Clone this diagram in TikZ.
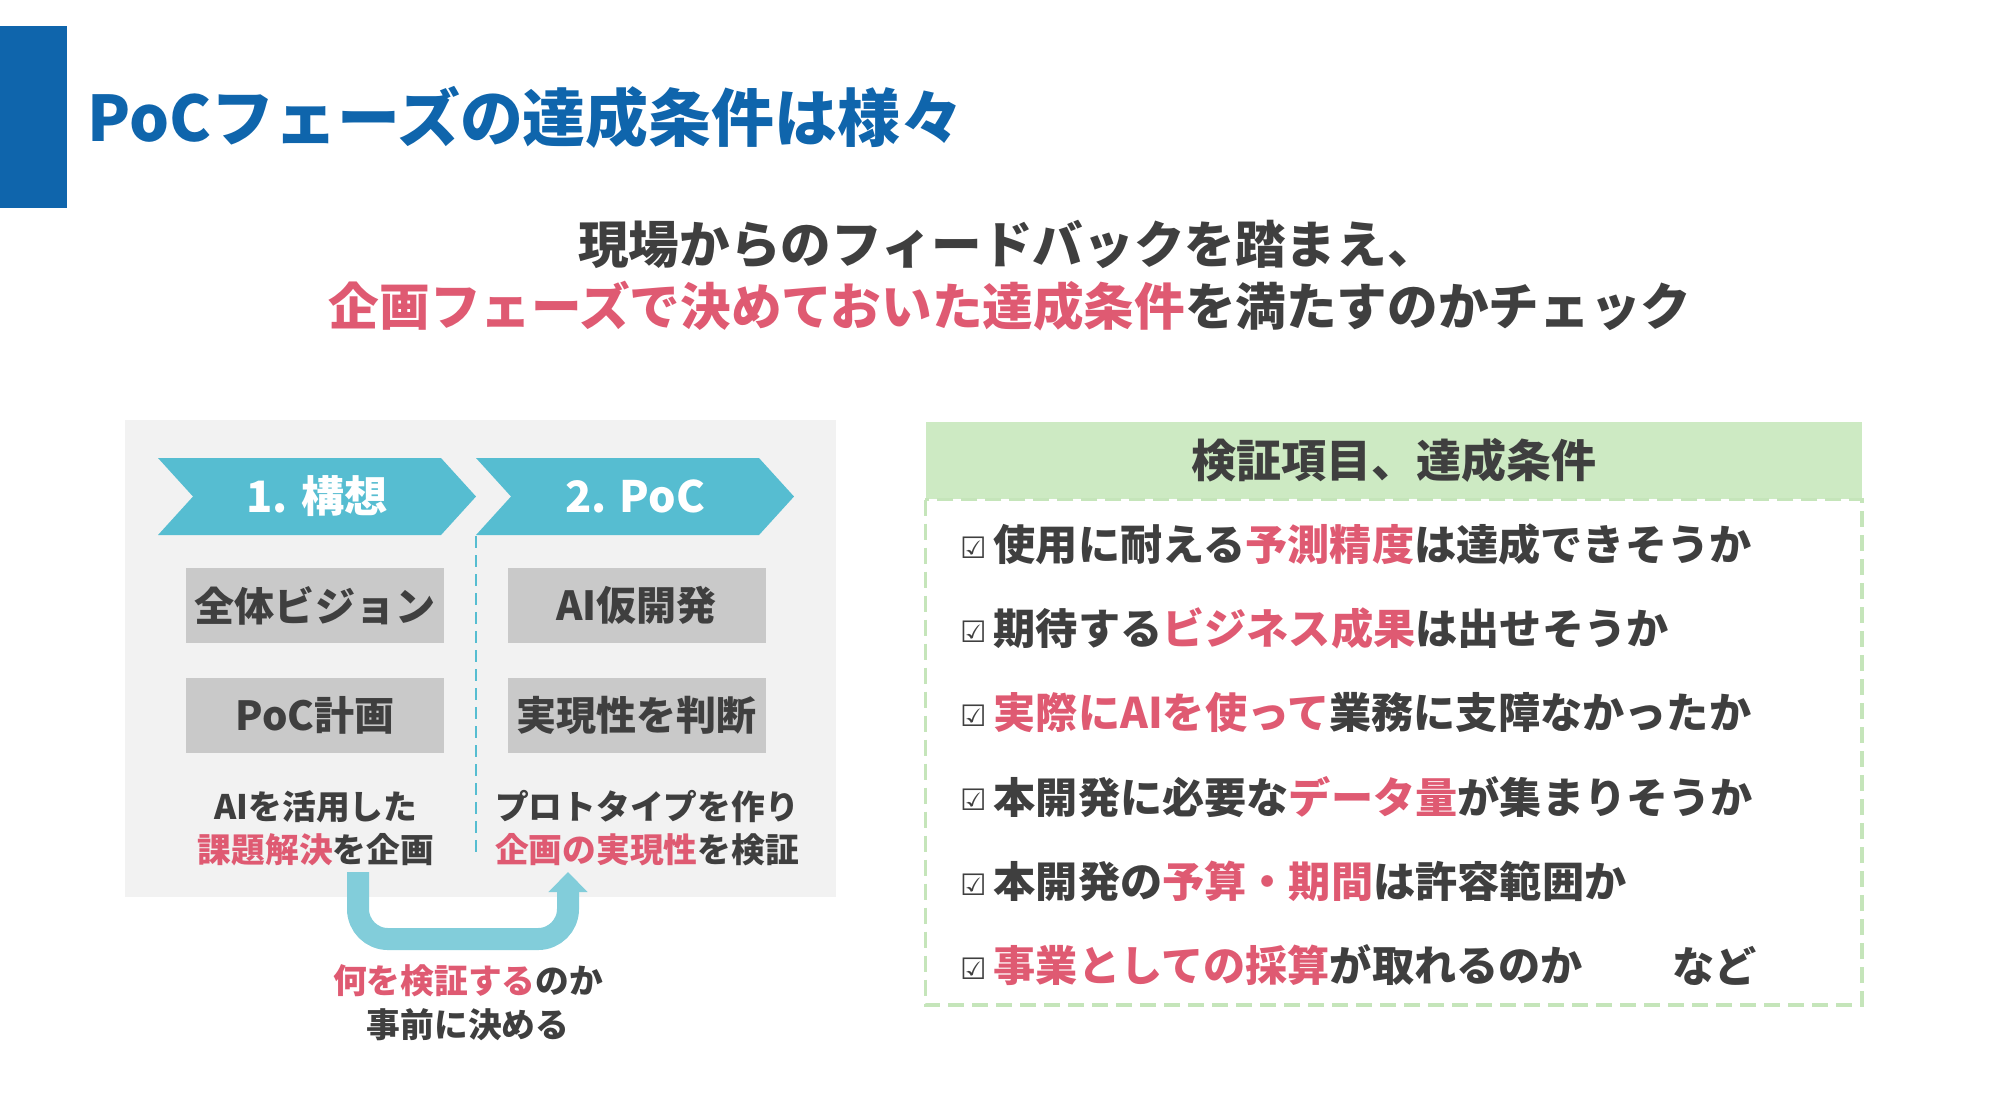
\documentclass[tikz,border=0pt]{standalone}
\usepackage{fontspec}
\setmainfont{Noto Sans CJK JP}
\newfontfamily\symfont{DejaVu Sans}
\usetikzlibrary{arrows.meta,calc,positioning}

\definecolor{titleblue}{HTML}{0F65AC}
\definecolor{textgray}{HTML}{3F3F3F}
\definecolor{hlpink}{HTML}{DF5A72}
\definecolor{chevblue}{HTML}{56BDD1}
\definecolor{loopblue}{HTML}{82CDDA}
\definecolor{panelgray}{HTML}{F2F2F2}
\definecolor{boxgray}{HTML}{C9C9C9}
\definecolor{hdrgreen}{HTML}{CDEAC3}
\definecolor{dashgreen}{HTML}{C5E5BA}

\newcommand{\pink}[1]{\textcolor{hlpink}{#1}}

\begin{document}
\begin{tikzpicture}[
    x=1cm, y=-1cm,
    font=\bfseries,
    titletext/.style={anchor=west, inner sep=0, text=titleblue,
      font=\fontsize{17.9}{21}\selectfont\bfseries},
    subtext/.style={inner sep=0, text=textgray,
      font=\fontsize{14.4}{17}\selectfont\bfseries},
    stage/.style={inner sep=0, text=white,
      font=\fontsize{12.3}{15}\selectfont\bfseries},
    task/.style={
      fill=boxgray,
      text=textgray,
      minimum width=2.58cm,
      minimum height=0.75cm,
      inner sep=0,
      font=\fontsize{11.4}{13}\selectfont\bfseries
    },
    capt/.style={align=center, inner sep=0, text=textgray,
      font=\fontsize{9.6}{12.2}\selectfont\bfseries},
    hdr/.style={
      fill=hdrgreen,
      text=textgray,
      minimum width=9.36cm,
      minimum height=0.77cm,
      inner sep=0,
      font=\fontsize{12.8}{15}\selectfont\bfseries
    },
    item/.style={anchor=west, inner sep=0, text=textgray,
      font=\fontsize{12}{15}\selectfont\bfseries},
    chk/.style={inner sep=0, text=textgray, font=\symfont\fontsize{8.4}{9}\selectfont},
    uturn/.style={line width=0.22cm, draw=loopblue, rounded corners=0.3cm,
      -{Triangle[width=0.38cm,length=0.2cm]}},
    dashbox/.style={draw=dashgreen, line width=1pt, dash pattern=on 0.16cm off 0.08cm},
    divider/.style={draw=chevblue, line width=0.6pt, dash pattern=on 0.12cm off 0.07cm}
  ]

  \path[use as bounding box] (0,0) rectangle (20.16,11.16);

  % Column centers
  \def\xLeftC{3.15}
  \def\xRightC{6.365}
  \def\yRowA{6.055}
  \def\yRowB{7.15}

  % =====================================================
  % TITLE
  % =====================================================
  \fill[titleblue] (0,0.26) rectangle (0.67,2.08);
  \node[titletext] (title) at (0.87,1.17) {PoCフェーズの達成条件は様々};

  \node[subtext] (sub1) at (10.08,2.44) {現場からのフィードバックを踏まえ、};
  \node[subtext] (sub2) at (10.1,3.06)
  {\pink{企画フェーズで決めておいた達成条件}を満たすのかチェック};

  % =====================================================
  % LEFT PANEL
  % =====================================================
  \fill[panelgray] (1.25,4.20) rectangle (8.36,8.97);

  % Chevrons
  \foreach \x/\lab/\nm in {1.58/{1. 構想}/ph1, 4.76/{2. PoC}/ph2}{
    \fill[chevblue] (\x,4.58) -- ++(2.83,0) -- ++(0.35,0.385)
    -- ++(-0.35,0.385) -- ++(-2.83,0) -- ++(0.35,-0.385) -- cycle;
    \node[stage] (\nm) at (\x+1.59,4.965) {\lab};
  }

  \coordinate (divtop) at (4.76,5.36);
  \coordinate (divbot) at (4.76,8.57);
  \draw[divider] (divtop) -- (divbot);

  \node[task] (vision) at (\xLeftC,\yRowA) {全体ビジョン};
  \node[task] (plan) at (\xLeftC,\yRowB) {PoC計画};
  \node[task] (proto) at (\xRightC,\yRowA) {AI仮開発};
  \node[task] (judge) at (\xRightC,\yRowB) {実現性を判断};

  \node[capt] (cap1) at (3.16,8.285) {AIを活用した\\\pink{課題解決}を企画};
  \node[capt] (cap2) at (6.47,8.285) {プロトタイプを作り\\\pink{企画の実現性}を検証};

  % =====================================================
  % U-TURN ARROW
  % =====================================================
  \coordinate (loopstart) at (3.58,8.72);
  \coordinate (loopend) at (5.68,8.72);
  \draw[uturn] (loopstart) -- ++(0,0.67) -| (loopend);

  \node[capt, font=\fontsize{9.6}{12.5}\selectfont\bfseries] (note) at (4.68,10.03)
  {\pink{何を検証する}のか\\事前に決める};

  % =====================================================
  % CHECK LIST
  % =====================================================
  \node[hdr] (hdr) at (13.94,4.605) {検証項目、達成条件};
  \draw[dashbox] (hdr.south west) rectangle (18.62,10.05);

  \foreach \i/\txt in {
    1/{使用に耐える\pink{予測精度}は達成できそうか},
    2/{期待する\pink{ビジネス成果}は出せそうか},
    3/{\pink{実際にAIを使って}業務に支障なかったか},
    4/{本開発に必要な\pink{データ量}が集まりそうか},
    5/{本開発の\pink{予算・期間}は許容範囲か},
    6/{\pink{事業としての採算}が取れるのか}}{
    \pgfmathsetmacro{\y}{5.445+0.842*(\i-1)}
    \node[chk] (chk\i) at (9.735,\y+0.03) {☑};
    \node[item] (item\i) at (9.93,\y) {\txt};
  }
  \node[item] (etc) at (16.72,9.655) {など};

\end{tikzpicture}
\end{document}
